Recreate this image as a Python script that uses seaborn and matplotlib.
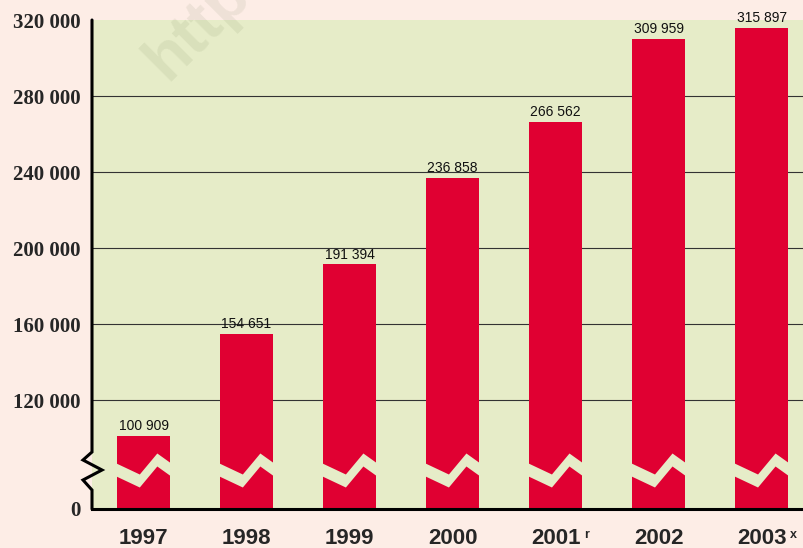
import numpy as np
import pandas as pd
import matplotlib
matplotlib.use('Agg')
import matplotlib.pyplot as plt
import matplotlib.transforms as mtransforms
import seaborn as sns

# data
years = ['1997', '1998', '1999', '2000', '2001', '2002', '2003']
values = [100909, 154651, 191394, 236858, 266562, 309959, 315897]
marks = {'2001': 'r', '2003': 'x'}
tick_vals = [120000, 160000, 200000, 240000, 280000, 320000]

# the axis is broken: the bottom of the plot stands for 0
y_top = 320000
y_bottom = 62632

outer_bg = '#fdede6'
plot_bg = '#e6ecc8'
bar_col = '#e00032'

sns.set_style('white')
plt.rcParams['font.family'] = ['Liberation Sans', 'DejaVu Sans']

df = pd.DataFrame({'year': years, 'value': values})

fig = plt.figure(figsize=(8.04, 5.48), dpi=100, facecolor=outer_bg)
ax = fig.add_axes([92 / 804, 39 / 548, 712 / 804, 489 / 548])
ax.set_facecolor(plot_bg)

sns.barplot(data=df, x='year', y='value', color=bar_col, width=0.515,
            saturation=1, linewidth=0, edgecolor=bar_col, ax=ax, zorder=2)

ax.set_xlim(-0.5, 6.41)
ax.set_ylim(y_bottom, y_top)

# grid lines
for v in tick_vals[:-1]:
    ax.axhline(v, color='#333333', lw=0.8, zorder=1)

ax.set_yticks([y_bottom] + tick_vals)
ax.set_yticklabels(['0'] + [f'{v:,}'.replace(',', ' ') for v in tick_vals],
                   family='Liberation Serif', fontweight='bold', fontsize=15)
ax.tick_params(axis='y', length=0, pad=8)
ax.tick_params(axis='x', length=0, pad=14)
ax.set_xticks(range(len(years)))
ax.set_xticklabels(years, fontweight='bold', fontsize=16)
ax.set_xlabel('')
ax.set_ylabel('')

for s in ['top', 'right', 'left']:
    ax.spines[s].set_visible(False)
ax.spines['bottom'].set_linewidth(2.2)
ax.spines['bottom'].set_color('black')
ax.spines['bottom'].set_zorder(5)

# value labels
ax.bar_label(ax.containers[0],
             labels=[f'{v:,}'.replace(',', ' ') for v in values],
             padding=2, fontsize=10, color='#111111')

# superscript notes on tick labels
blend = mtransforms.blended_transform_factory(ax.transData, ax.transAxes)
for i, y in enumerate(years):
    if y in marks:
        ax.text(i + 0.272, -0.041, marks[y], transform=blend, fontsize=9,
                fontweight='bold', ha='left', va='top', clip_on=False)

# zigzag break bands across the bars (pixel offsets from plot bottom)
def py(p):
    return (509 - p) / 489

half_w = 0.515 / 2
for i in range(len(years)):
    xs = np.array([-0.05, 0.43, 0.76, 1.05]) * 0.515 + i - half_w
    ctr = [469, 481, 460, 471]
    top = [py(c - 6.5) for c in ctr]
    bot = [py(c + 6.5) for c in ctr]
    poly = list(zip(xs, top)) + list(zip(xs[::-1], bot[::-1]))
    ax.add_patch(plt.Polygon(poly, closed=True, transform=blend,
                             facecolor=plot_bg, edgecolor='none', zorder=3))

# left axis line with its break
spx = [92, 92, 83, 102, 83, 92, 92]
spy = [509, 490, 480, 470, 460, 452, 20]
ax.plot([(x - 92) / 712 for x in spx], [py(p) for p in spy],
        transform=ax.transAxes, color='black', lw=2.2, clip_on=False,
        zorder=6, solid_joinstyle='miter')

# faint watermark
fig.text(167 / 804, 1 - 82 / 548, 'http', rotation=45, rotation_mode='anchor',
         ha='left', va='baseline', fontsize=46, fontweight='bold',
         color='#405020', alpha=0.08)

fig.savefig('out.png', dpi=100, facecolor=outer_bg)
